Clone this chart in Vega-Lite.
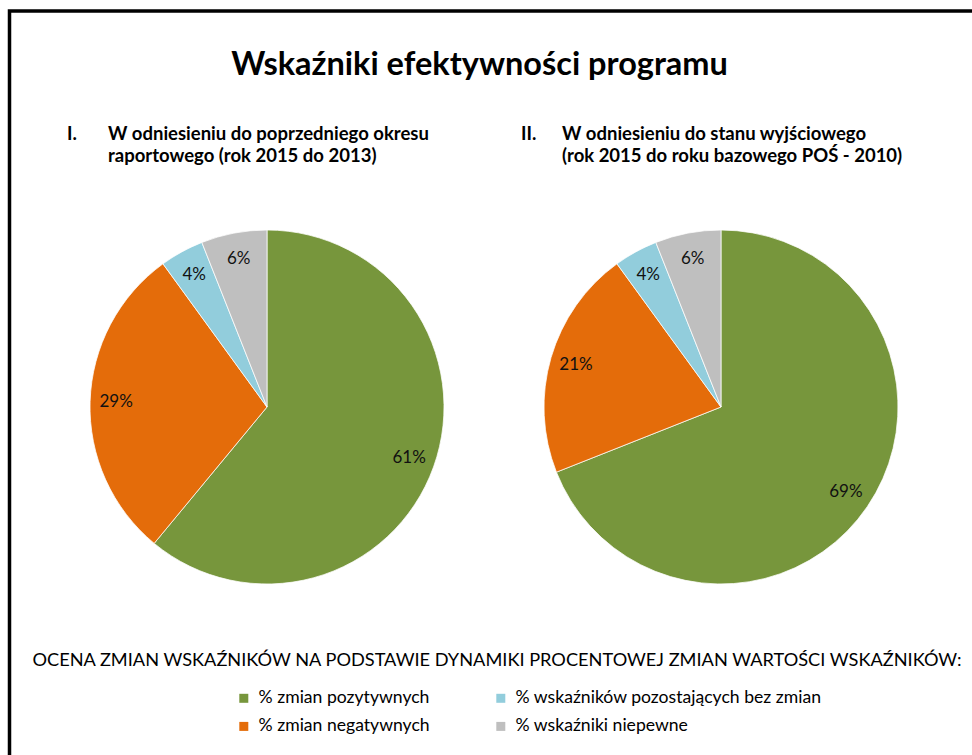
{
  "$schema": "https://vega.github.io/schema/vega-lite/v6.json",
  "autosize": {"type": "none"},
  "width": 969,
  "height": 760,
  "padding": {"left": 9.5, "top": 11, "right": -6.5, "bottom": -16},
  "background": "#ffffff",
  "title": {
    "text": "Wskaźniki efektywności programu",
    "font": "Lato",
    "fontSize": 32.5,
    "fontWeight": "bold",
    "color": "#000000",
    "anchor": "middle",
    "offset": -70,
    "dx": -14.5
  },
  "datasets": {
    "udzialy": [
      {"panel": "I", "element": "wykres", "kategoria": "% zmian pozytywnych", "udzial": 0.61, "kolejnosc": 1},
      {"panel": "I", "element": "wykres", "kategoria": "% zmian negatywnych", "udzial": 0.29, "kolejnosc": 2},
      {"panel": "I", "element": "wykres", "kategoria": "% wskaźników pozostających bez zmian", "udzial": 0.04, "kolejnosc": 3},
      {"panel": "I", "element": "wykres", "kategoria": "% wskaźniki niepewne", "udzial": 0.06, "kolejnosc": 4},
      {"panel": "II", "element": "wykres", "kategoria": "% zmian pozytywnych", "udzial": 0.69, "kolejnosc": 1},
      {"panel": "II", "element": "wykres", "kategoria": "% zmian negatywnych", "udzial": 0.21, "kolejnosc": 2},
      {"panel": "II", "element": "wykres", "kategoria": "% wskaźników pozostających bez zmian", "udzial": 0.04, "kolejnosc": 3},
      {"panel": "II", "element": "wykres", "kategoria": "% wskaźniki niepewne", "udzial": 0.06, "kolejnosc": 4}
    ],
    "naglowki": [
      {"panel": "I", "element": "nagłówek", "numer": "I.", "tekst": "W odniesieniu do poprzedniego okresu\nraportowego (rok 2015 do 2013)"},
      {"panel": "II", "element": "nagłówek", "numer": "II.", "tekst": "W odniesieniu do stanu wyjściowego\n(rok 2015 do roku bazowego POŚ - 2010)"}
    ]
  },
  "encoding": {
    "x": {"field": "panel", "type": "nominal", "axis": null,
          "scale": {"type": "point", "domain": ["I", "II"], "padding": 0.5672}},
    "y": {"field": "element", "type": "nominal", "axis": null,
          "scale": {"type": "point", "domain": ["nagłówek", "wykres"], "padding": 0.9232, "align": 0.26166}}
  },
  "layer": [
    {
      "data": {"name": "udzialy"},
      "transform": [{"filter": "datum.panel === 'I'"}],
      "mark": {"type": "arc", "outerRadius": 177, "stroke": "#ffffff", "strokeWidth": 0.75},
      "encoding": {
        "theta": {"field": "udzial", "type": "quantitative", "stack": true, "scale": {"domain": [0, 1]}},
        "order": {"field": "kolejnosc", "type": "quantitative"},
        "color": {"field": "kategoria", "type": "nominal",
          "scale": {"domain": ["% zmian pozytywnych", "% zmian negatywnych", "% wskaźników pozostających bez zmian", "% wskaźniki niepewne"],
                    "range": ["#77963C", "#E46C0A", "#92CDDC", "#BFBFBF"]},
          "legend": {
            "orient": "none", "legendX": 21.5, "legendY": 641,
            "title": "OCENA ZMIAN WSKAŹNIKÓW NA PODSTAWIE DYNAMIKI PROCENTOWEJ ZMIAN WARTOŚCI WSKAŹNIKÓW:",
            "titleFont": "Lato", "titleFontSize": 18.2, "titleFontWeight": "normal", "titleColor": "#000000",
            "titleAnchor": "middle",
            "titlePadding": 19, "titleLimit": 1000,
            "columns": 2, "columnPadding": 0, "rowPadding": 9.4,
            "symbolType": "square", "symbolSize": 81, "symbolStrokeWidth": 0, "symbolOffset": 62,
            "labelOffset": 6, "labelFont": "Lato", "labelFontSize": 17.6, "labelColor": "#000000", "labelLimit": 500
          }
        }
      }
    },
    {
      "data": {"name": "udzialy"},
      "transform": [{"filter": "datum.panel === 'I'"}],
      "mark": {"type": "text", "radius": 151, "font": "Lato", "fontSize": 17, "color": "#111111"},
      "encoding": {
        "theta": {"field": "udzial", "type": "quantitative", "stack": true},
        "order": {"field": "kolejnosc", "type": "quantitative"},
        "text": {"field": "udzial", "type": "quantitative", "format": ".0%"}
      }
    },
    {
      "data": {"name": "udzialy"},
      "transform": [{"filter": "datum.panel === 'II'"}],
      "mark": {"type": "arc", "outerRadius": 177, "stroke": "#ffffff", "strokeWidth": 0.75},
      "encoding": {
        "theta": {"field": "udzial", "type": "quantitative", "stack": true},
        "order": {"field": "kolejnosc", "type": "quantitative"},
        "color": {"field": "kategoria", "type": "nominal"}
      }
    },
    {
      "data": {"name": "udzialy"},
      "transform": [{"filter": "datum.panel === 'II'"}],
      "mark": {"type": "text", "radius": 151, "font": "Lato", "fontSize": 17, "color": "#111111"},
      "encoding": {
        "theta": {"field": "udzial", "type": "quantitative", "stack": true},
        "order": {"field": "kolejnosc", "type": "quantitative"},
        "text": {"field": "udzial", "type": "quantitative", "format": ".0%"}
      }
    },
    {
      "data": {"name": "naglowki"},
      "mark": {"type": "text", "align": "left", "baseline": "alphabetic", "dx": -200, "font": "Lato", "fontSize": 18.5, "fontWeight": "bold", "color": "#000000"},
      "encoding": {
        "text": {"field": "numer", "type": "nominal"}
      }
    },
    {
      "data": {"name": "naglowki"},
      "mark": {"type": "text", "align": "left", "baseline": "alphabetic", "dx": -159, "lineBreak": "\n", "lineHeight": 22, "font": "Lato", "fontSize": 18.5, "fontWeight": "bold", "color": "#000000"},
      "encoding": {
        "text": {"field": "tekst", "type": "nominal"}
      }
    }
  ],
  "config": {
    "view": {"stroke": "#000000", "strokeWidth": 3.5, "fill": "#ffffff"}
  }
}
